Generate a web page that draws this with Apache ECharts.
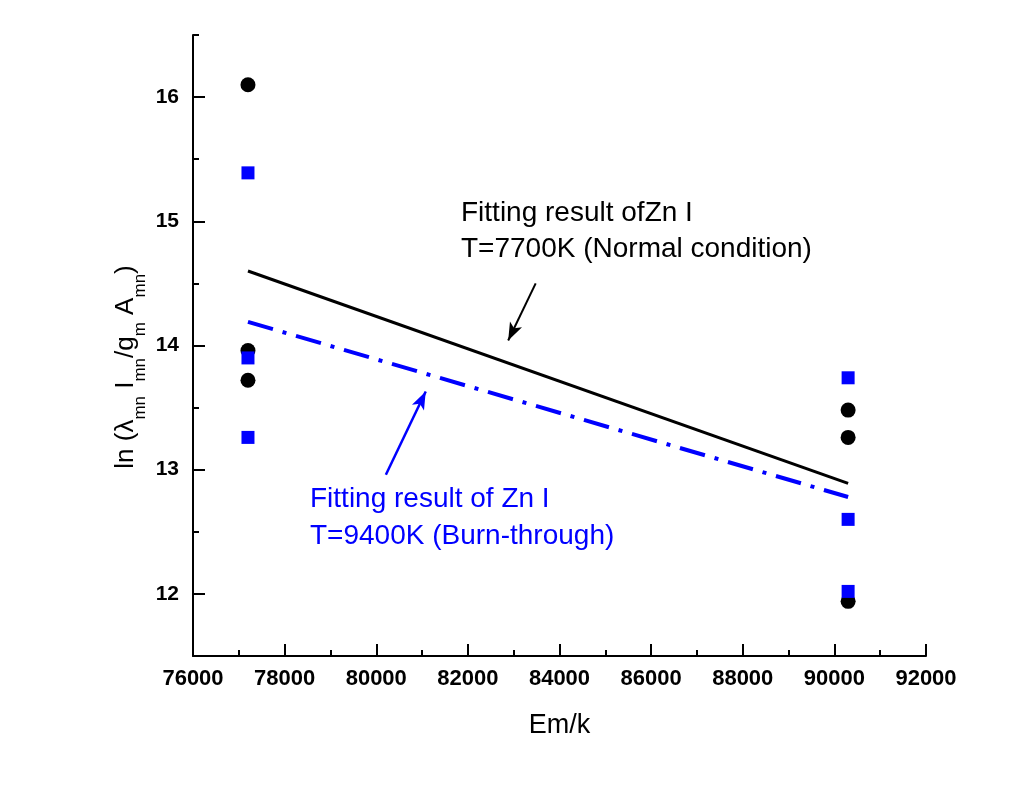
<!DOCTYPE html>
<html>
<head>
<meta charset="utf-8">
<script src="https://cdn.jsdelivr.net/npm/echarts@6/dist/echarts.min.js"></script>
<style>
  html, body { margin: 0; padding: 0; background: #fff; }
  #chart { width: 1028px; height: 792px; }
</style>
</head>
<body>
<div id="chart"></div>
<script>
// measured points (Em/k, ln value)
const blackPts = [[77200, 16.1], [77200, 13.96], [77200, 13.72], [90300, 13.48], [90300, 13.26], [90300, 11.94]];
const bluePts = [[77200, 15.39], [77200, 13.9], [77200, 13.26], [90300, 13.74], [90300, 12.6], [90300, 12.02]];
// fitted lines
const fitNormal = [[77200, 14.6], [90300, 12.89]];
const fitBurn = [[77200, 14.19], [90300, 12.78]];
// arrows (tail, head) in data units
const arrowNormal = [[83480, 14.5], [82880, 14.04]];
const arrowBurn = [[80210, 12.96], [81080, 13.63]];
// ticks
const yTicks = [12, 13, 14, 15, 16];

const font = '"Liberation Sans", Arial, sans-serif';
const myChart = echarts.init(document.getElementById('chart'));

const axisLine = { show: true, lineStyle: { color: '#000', width: 2 } };

const options = {
  animation: false,
  backgroundColor: '#fff',
  grid: { left: 193, right: 102, top: 35, bottom: 136, outerBoundsMode: 'none' },
  xAxis: {
    type: 'value',
    min: 76000,
    max: 92000,
    interval: 2000,
    name: 'Em/k',
    nameLocation: 'middle',
    nameGap: 56,
    nameTextStyle: { fontFamily: font, fontSize: 27, color: '#000' },
    axisLine: axisLine,
    axisTick: { inside: true, length: 12, lineStyle: { color: '#000', width: 2 } },
    minorTick: { show: true, splitNumber: 2, length: 6, lineStyle: { color: '#000', width: 2 } },
    axisLabel: {
      margin: 12, fontFamily: font, fontSize: 22, fontWeight: 'bold', color: '#000',
      formatter: function (v) { return String(v); }
    },
    splitLine: { show: false }
  },
  yAxis: [
    {
      type: 'value',
      min: 11.5,
      max: 16.5,
      axisLine: axisLine,
      axisTick: { inside: true, length: 12, customValues: yTicks, lineStyle: { color: '#000', width: 2 } },
      axisLabel: { customValues: yTicks, margin: 14, fontFamily: font, fontSize: 21, fontWeight: 'bold', color: '#000' },
      splitLine: { show: false }
    },
    {
      // half-step minor ticks
      type: 'value',
      position: 'left',
      min: 11.5,
      max: 16.5,
      interval: 0.5,
      axisLine: { show: false },
      axisTick: { inside: true, length: 6, lineStyle: { color: '#000', width: 2 } },
      axisLabel: { show: false },
      splitLine: { show: false }
    }
  ],
  graphic: [
    {
      type: 'text', x: 126, y: 367, rotation: Math.PI / 2,
      style: {
        text: '{a|ln (λ}{s|mn}{a| I}{s|mn}{a|/g}{s|m}{a| A}{s|mn}{a|)}',
        align: 'center', verticalAlign: 'middle', fill: '#000',
        rich: {
          a: { fontFamily: font, fontSize: 26, lineHeight: 30, fill: '#000' },
          s: { fontFamily: font, fontSize: 17, lineHeight: 18, padding: [21, 0, 0, 0], verticalAlign: 'top', fill: '#000' }
        }
      }
    },
    { type: 'text', x: 461, y: 213, style: { text: 'Fitting result ofZn I', fontFamily: font, fontSize: 28, fill: '#000', verticalAlign: 'middle' } },
    { type: 'text', x: 461, y: 249, style: { text: 'T=7700K (Normal condition)', fontFamily: font, fontSize: 28, fill: '#000', verticalAlign: 'middle' } },
    { type: 'text', x: 310, y: 499, style: { text: 'Fitting result of Zn I', fontFamily: font, fontSize: 28, fill: '#0000ff', verticalAlign: 'middle' } },
    { type: 'text', x: 310, y: 536, style: { text: 'T=9400K (Burn-through)', fontFamily: font, fontSize: 28, fill: '#0000ff', verticalAlign: 'middle' } }
  ],
  series: [
    {
      name: 'fit normal',
      type: 'line',
      data: fitNormal,
      symbol: 'none',
      lineStyle: { color: '#000', width: 3 },
      markLine: {
        silent: true,
        symbol: ['none', 'arrow'],
        symbolSize: [10, 18],
        label: { show: false },
        lineStyle: { color: '#000', width: 2, type: 'solid' },
        data: [[{ coord: arrowNormal[0] }, { coord: arrowNormal[1] }]]
      }
    },
    {
      name: 'fit burn',
      type: 'line',
      data: fitBurn,
      symbol: 'none',
      lineStyle: { color: '#0000ff', width: 4, type: [26, 10, 4, 10] },
      markLine: {
        silent: true,
        symbol: ['none', 'arrow'],
        symbolSize: [10, 18],
        label: { show: false },
        lineStyle: { color: '#0000ff', width: 2.5, type: 'solid' },
        data: [[{ coord: arrowBurn[0] }, { coord: arrowBurn[1] }]]
      }
    },
    {
      name: 'Normal',
      type: 'scatter',
      data: blackPts,
      symbol: 'circle',
      symbolSize: 15,
      itemStyle: { color: '#000', opacity: 1 }
    },
    {
      name: 'Burn-through',
      type: 'scatter',
      data: bluePts,
      symbol: 'rect',
      symbolSize: 13,
      itemStyle: { color: '#0000ff', opacity: 1 }
    }
  ]
};

myChart.setOption(options);
</script>
</body>
</html>
